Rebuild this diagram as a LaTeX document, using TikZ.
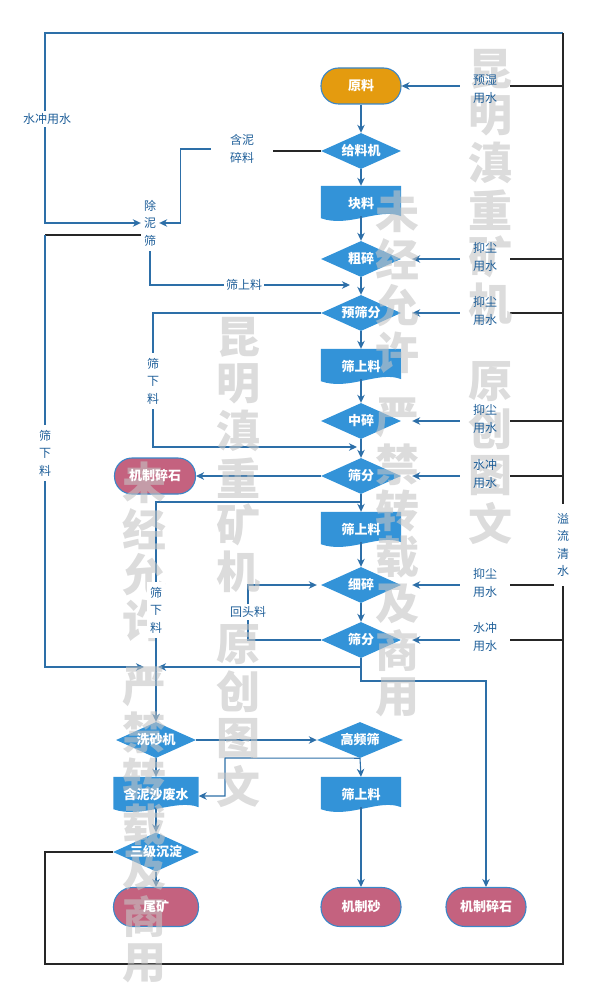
\documentclass[tikz,border=0pt]{standalone}
\usepackage{fontspec}
\setmainfont{Noto Sans CJK SC}
\usetikzlibrary{shapes.geometric,arrows.meta,calc}
\pgfdeclarelayer{bg}\pgfdeclarelayer{lines}\pgfdeclarelayer{fg}\pgfdeclarelayer{top}
\pgfsetlayers{bg,lines,main,fg,top}
\definecolor{ln}{HTML}{2D6FA8}
\definecolor{nb}{HTML}{3393D8}
\definecolor{nbd}{HTML}{3A86C8}
\definecolor{orng}{HTML}{E49B0F}
\definecolor{pnk}{HTML}{C4627F}
\definecolor{txt}{HTML}{1F5F99}
\definecolor{wm}{HTML}{C4C4C4}
\tikzset{
  flow/.style={ln, line width=1.1pt, -{Stealth[length=8pt,width=7.5pt,inset=2.5pt]}},
  fline/.style={ln, line width=1.1pt},
  blk/.style={black!85, line width=1.3pt},
  ntext/.style={text=white, font=\fontsize{13}{15}\selectfont\bfseries, inner sep=0pt},
  dtext/.style={ntext, text height=17pt, text depth=2pt},
  term/.style={rectangle, rounded corners=17.5pt, draw=nbd, line width=1.1pt, minimum width=80pt, minimum height=36pt, inner sep=0pt},
  dia/.style={diamond, aspect=2.2, fill=nb, minimum width=80pt, minimum height=36pt, inner sep=0pt},
  docbox/.style={rectangle, minimum width=80pt, minimum height=30pt, inner sep=0pt},
  lbl/.style={text=txt, font=\fontsize{12}{18}\selectfont, align=center, inner xsep=13pt, inner ysep=2pt},
  vlbl/.style={text=txt, font=\fontsize{12}{17.5}\selectfont, align=center, fill=white, inner xsep=3pt, inner ysep=5pt},
  hlbl/.style={text=txt, font=\fontsize{12}{14}\selectfont, fill=white, inner xsep=2pt, inner ysep=2pt},
  wmk/.style={text=wm, text opacity=0.6, font=\fontsize{44}{44}\selectfont\bfseries, inner sep=0pt}
}
\newcommand\docshape[1]{\fill[nb] (#1.north west) -- (#1.north east) -- (#1.south east)
  .. controls ($(#1.south east)+(-22,-9)$) and ($(#1.south west)+(28,12)$) .. ($(#1.south west)+(0,2)$) -- cycle;}
\begin{document}
\begin{tikzpicture}[x=1pt,y=-1pt]
\useasboundingbox (0,0) rectangle (593,1000);
% main shapes
\node[term,fill=orng] (yl) at (361,86) {};
\node[dia] (glj) at (361,151) {};
\node[docbox] (kl) at (361,201) {};
\node[dia] (cs) at (361,259) {};
\node[dia] (ysf) at (361,313) {};
\node[docbox] (ssl1) at (361,364) {};
\node[dia] (zs) at (361,421) {};
\node[dia] (sf1) at (361,476) {};
\node[docbox] (ssl2) at (361,527) {};
\node[dia] (xs) at (361,585) {};
\node[dia] (sf2) at (361,640) {};
\node[term,fill=pnk,minimum width=81pt] (jzss1) at (155,476) {};
\node[dia] (xsj) at (156,740) {};
\node[dia,minimum width=86pt] (gps) at (360,740) {};
\node[docbox,minimum width=85pt] (hnss) at (156,792) {};
\node[docbox] (ssl3) at (361,792) {};
\node[dia,minimum width=86pt,minimum height=39pt] (sjcd) at (156,852) {};
\node[term,fill=pnk,minimum width=85pt,minimum height=39pt,rounded corners=19pt] (wk) at (156,907) {};
\node[term,fill=pnk,minimum height=39pt,rounded corners=19pt] (jzs) at (361,907) {};
\node[term,fill=pnk,minimum height=39pt,rounded corners=19pt] (jzss2) at (486,907) {};
% document shapes
\begin{pgfonlayer}{bg}
\docshape{kl}\docshape{ssl1}\docshape{ssl2}\docshape{hnss}\docshape{ssl3}
\end{pgfonlayer}
\begin{pgfonlayer}{top}
% shape texts
\node[ntext] (yl-t) at (yl) {原料};
\node[ntext] (glj-t) at (glj) {给料机};
\node[dtext] (kl-t) at (kl) {块料};
\node[ntext] (cs-t) at (cs) {粗碎};
\node[ntext] (ysf-t) at (ysf) {预筛分};
\node[dtext] (ssl1-t) at (ssl1) {筛上料};
\node[ntext] (zs-t) at (zs) {中碎};
\node[ntext] (sf1-t) at (sf1) {筛分};
\node[dtext] (ssl2-t) at (ssl2) {筛上料};
\node[ntext] (xs-t) at (xs) {细碎};
\node[ntext] (sf2-t) at (sf2) {筛分};
\node[ntext] (jzss1-t) at (jzss1) {机制碎石};
\node[ntext] (xsj-t) at (xsj) {洗砂机};
\node[ntext] (gps-t) at (gps) {高频筛};
\node[dtext] (hnss-t) at (hnss) {含泥沙废水};
\node[dtext] (ssl3-t) at (ssl3) {筛上料};
\node[ntext] (sjcd-t) at (sjcd) {三级沉淀};
\node[ntext] (wk-t) at (wk) {尾矿};
\node[ntext] (jzs-t) at (jzs) {机制砂};
\node[ntext] (jzss2-t) at (jzss2) {机制碎石};
% labels
\node[lbl] (w1) at (485,89) {预湿\\用水};
\node[lbl] (w2) at (485,257) {抑尘\\用水};
\node[lbl] (w3) at (485,311) {抑尘\\用水};
\node[lbl] (w4) at (485,419) {抑尘\\用水};
\node[lbl] (w5) at (485,474) {水冲\\用水};
\node[lbl] (w6) at (485,583) {抑尘\\用水};
\node[lbl] (w7) at (485,637) {水冲\\用水};
\node[lbl,inner xsep=19pt] (hn) at (242,149) {含泥\\碎料};
\node[vlbl] (cns) at (150,223) {除\\泥\\筛};
\node[vlbl] (xl1) at (153,381) {筛\\下\\料};
\node[vlbl] (xl2) at (45,453) {筛\\下\\料};
\node[vlbl] (xl3) at (156,610) {筛\\下\\料};
\node[vlbl,inner ysep=9pt] (ylqs) at (563,545) {溢\\流\\清\\水};
\node[hlbl] (scys) at (47,119) {水冲用水};
\node[hlbl] (ssl0) at (244,285) {筛上料};
\node[hlbl] (htl) at (248,612) {回头料};
\end{pgfonlayer}
% coordinates
\coordinate (RT) at (563,33);
\coordinate (LT) at (45,33);
\coordinate (LB) at (45,964);
\coordinate (c235) at (45,235);
\coordinate (c285) at (361,285);
\coordinate (j447) at (361,447);
\coordinate (j502) at (361,502);
\coordinate (j667) at (361,667);
\coordinate (m667) at (156,667);
\coordinate (j681) at (361,681);
\coordinate (c225) at (225,758);
\begin{pgfonlayer}{lines}
% main chain
\draw[flow] (yl.south) -- (glj.north);
\draw[flow] (glj.south) -- (kl.north);
\draw[flow] (kl.south) -- (cs.north);
\draw[flow] (cs.south) -- (ysf.north);
\draw[flow] (ysf.south) -- (ssl1.north);
\draw[flow] (ssl1.south) -- (zs.north);
\draw[flow] (zs.south) -- (sf1.north);
\draw[flow] (sf1.south) -- (ssl2.north);
\draw[flow] (ssl2.south) -- (xs.north);
\draw[flow] (xs.south) -- (sf2.north);
\draw[flow] (sf1.west) -- (jzss1.east);
\draw[flow] (xsj.east) -- (gps.west);
\draw[flow] (xsj.south) -- (hnss.north);
\draw[flow] (hnss.south) -- (sjcd.north);
\draw[flow] (sjcd.south) -- (wk.north);
\draw[flow] (gps.south) -- (ssl3.north);
\draw[flow] (ssl3.south) -- (jzs.north);
% side loops
\draw[flow] (RT) -- (LT) |- (cns.west);
\draw[blk] (glj.west) -- (hn.east |- glj.west);
\draw[flow] (hn.west) -- ++(-30,0) |- (cns.east);
\draw[blk] (cns.west |- c235) -- (c235);
\draw[flow,shorten >=12pt] (c235) |- (m667);
\draw[flow,shorten >=11pt] (cns.south) |- (c285);
\draw[flow,shorten >=4pt] (ysf.west) -| (xl1.center) |- (j447);
\draw[flow] (j502) -| (xsj.north);
\draw[flow,shorten >=4pt] (sf2.west) -| (htl.center) |- (xs.west);
\draw[flow,shorten >=2pt] (j667) -- (m667);
\draw[flow] (sf2.south) -- (j681) -| (jzss2.north);
\draw[flow] (gps.south) -- (c225) |- ($(hnss.east)+(0,4)$);
% water inputs
\draw[flow] (w1.west |- yl) -- (yl.east);
\draw[flow,shorten >=11pt] (w2.west |- cs) -- (cs.east);
\draw[flow,shorten >=11pt] (w3.west |- ysf) -- (ysf.east);
\draw[flow,shorten >=11pt] (w4.west |- zs) -- (zs.east);
\draw[flow,shorten >=11pt] (w5.west |- sf1) -- (sf1.east);
\draw[flow,shorten >=11pt] (w6.west |- xs) -- (xs.east);
\draw[flow,shorten >=11pt] (w7.west |- sf2) -- (sf2.east);
\foreach \w/\n in {w1/yl,w2/cs,w3/ysf,w4/zs,w5/sf1,w6/xs,w7/sf2}
  \draw[blk] (\w.east |- \n) -- (RT |- \n);
% clear water return loop
\draw[blk] (sjcd.west) -| (LB) -| (RT);
\end{pgfonlayer}
% watermark
\begin{pgfonlayer}{fg}
\foreach \c [count=\i from 0] in {昆,明,滇,重,矿,机} \node[wmk] at (490,69+47*\i) {\c};
\foreach \c [count=\i from 0] in {原,创,图,文} \node[wmk] at (490,382+47*\i) {\c};
\foreach \c [count=\i from 0] in {未,经,允,许} \node[wmk] at (397,212+47*\i) {\c};
\foreach \c [count=\i from 0] in {严,禁,转,载,及,商,用} \node[wmk] at (397,418+46.5*\i) {\c};
\foreach \c [count=\i from 0] in {昆,明,滇,重,矿,机} \node[wmk] at (238,337+47*\i) {\c};
\foreach \c [count=\i from 0] in {原,创,图,文} \node[wmk] at (238,645+47*\i) {\c};
\foreach \c [count=\i from 0] in {未,经,允,许} \node[wmk] at (144,483+46*\i) {\c};
\foreach \c [count=\i from 0] in {严,禁,转,载,及,商,用} \node[wmk] at (144,687+46*\i) {\c};
\end{pgfonlayer}
\end{tikzpicture}
\end{document}
